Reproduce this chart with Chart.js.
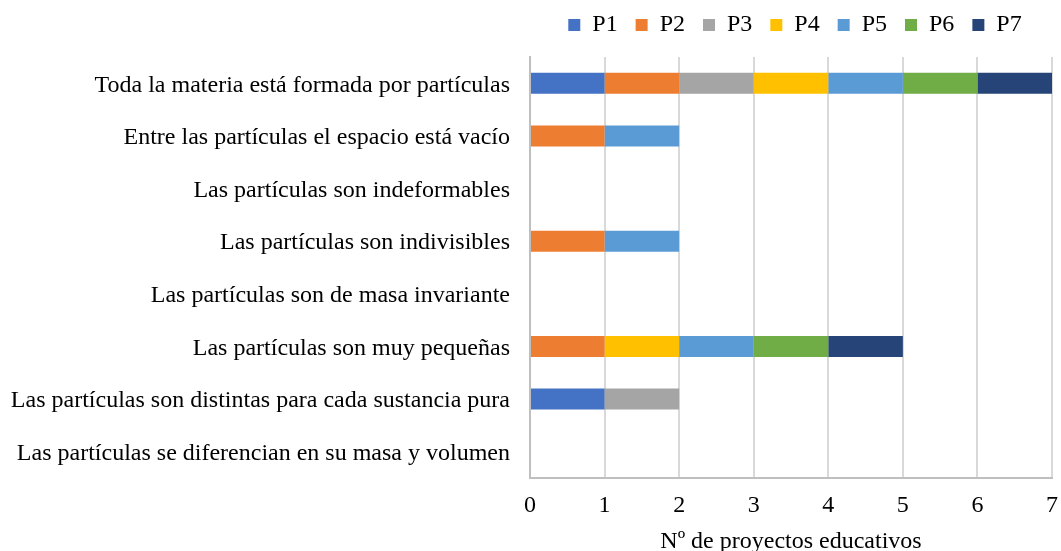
<!DOCTYPE html>
<html>
<head>
<meta charset="utf-8">
<script src="https://cdn.jsdelivr.net/npm/chart.js@4/dist/chart.umd.min.js"></script>
<style>
  html, body { margin: 0; padding: 0; background: #fff; overflow: hidden; }
  #wrap { width: 1061px; height: 551px; }
</style>
</head>
<body>
<div id="wrap"><canvas id="particulas-chart"></canvas></div>
<script>
const categories = [
    'Toda la materia está formada por partículas',
    'Entre las partículas el espacio está vacío',
    'Las partículas son indeformables',
    'Las partículas son indivisibles',
    'Las partículas son de masa invariante',
    'Las partículas son muy pequeñas',
    'Las partículas son distintas para cada sustancia pura',
    'Las partículas se diferencian en su masa y volumen'
];

const seriesNames = ['P1', 'P2', 'P3', 'P4', 'P5', 'P6', 'P7'];

const p1 = [1, 0, 0, 0, 0, 0, 1, 0];
const p2 = [1, 1, 0, 1, 0, 1, 0, 0];
const p3 = [1, 0, 0, 0, 0, 0, 1, 0];
const p4 = [1, 0, 0, 0, 0, 1, 0, 0];
const p5 = [1, 1, 0, 1, 0, 1, 0, 0];
const p6 = [1, 0, 0, 0, 0, 1, 0, 0];
const p7 = [1, 0, 0, 0, 0, 1, 0, 0];

const xTicks = [0, 1, 2, 3, 4, 5, 6, 7];

const colors = ['#4472C4', '#ED7D31', '#A5A5A5', '#FFC000', '#5B9BD5', '#70AD47', '#264478'];

const font = 'Liberation Serif, Times New Roman, serif';

// legend centred over the plot area, near the top edge
const legendShift = {
    id: 'legendShift',
    afterLayout(chart) {
        const lg = chart.legend;
        lg.left = chart.chartArea.left + 4;
        lg.right = chart.chartArea.right + 4;
        lg.top -= 10;
        lg.bottom -= 10;
    }
};

function buildChart(container) {
    const series = [p1, p2, p3, p4, p5, p6, p7];
    const data = {
        labels: categories,
        datasets: seriesNames.map((name, i) => ({
            label: name,
            data: series[i],
            backgroundColor: colors[i],
            borderWidth: 0,
            categoryPercentage: 0.4,
            barPercentage: 1
        }))
    };

    const config = {
        type: 'bar',
        data: data,
        plugins: [legendShift],
        options: {
            indexAxis: 'y',
            responsive: true,
            maintainAspectRatio: false,
            animation: false,
            layout: { padding: { top: 5, right: 0, left: 0, bottom: 0 } },
            plugins: {
                legend: {
                    position: 'top',
                    labels: {
                        boxWidth: 12,
                        boxHeight: 12,
                        padding: 18,
                        color: '#000',
                        font: { family: font, size: 24 }
                    }
                },
                tooltip: { enabled: false }
            },
            scales: {
                x: {
                    stacked: true,
                    min: 0,
                    max: 7,
                    afterBuildTicks: (scale) => {
                        scale.ticks = xTicks.map(v => ({ value: v }));
                    },
                    afterFit: (scale) => {
                        scale.height = 73;
                        scale.paddingRight = 9;
                    },
                    grid: { color: '#d9d9d9', lineWidth: 2, drawTicks: false },
                    border: { color: '#bfbfbf', width: 2 },
                    ticks: {
                        padding: 13,
                        color: '#000',
                        font: { family: font, size: 24 }
                    },
                    title: {
                        display: true,
                        text: 'Nº de proyectos educativos',
                        color: '#000',
                        padding: { top: 0, bottom: 0 },
                        font: { family: font, size: 24, lineHeight: 0.75 }
                    }
                },
                y: {
                    stacked: true,
                    afterFit: (scale) => { scale.width = 530; },
                    grid: { display: false, drawTicks: false },
                    border: { color: '#bfbfbf', width: 2 },
                    ticks: {
                        padding: 20,
                        labelOffset: 2,
                        color: '#000',
                        autoSkip: false,
                        font: { family: font, size: 24 }
                    }
                }
            }
        }
    };

    new Chart(container, config);
}

addEventListener('DOMContentLoaded', () => {
    const el = document.getElementById('particulas-chart');
    if (el) {
        buildChart(el);
    }
});
</script>
</body>
</html>
